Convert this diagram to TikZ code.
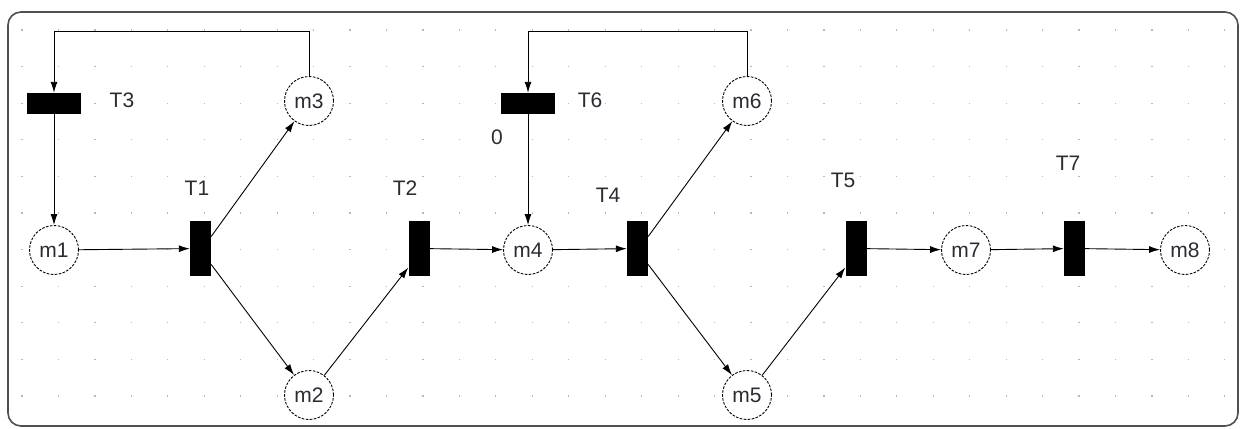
\documentclass[tikz,border=0pt]{standalone}
\usepackage{fontspec}
\setmainfont{Liberation Sans}
\usetikzlibrary{arrows.meta}
\definecolor{txt}{HTML}{2B2B33}
\definecolor{frame}{HTML}{505050}
\definecolor{griddot}{HTML}{B8B8B8}
\newcommand{\netfont}{\fontsize{21}{24}\selectfont}
\begin{document}
\begin{tikzpicture}[x=1pt,y=-1pt,
  place/.style={circle,draw,dash pattern=on 2.6pt off 1.4pt,line width=0.9pt,fill=white,
    minimum size=49pt,inner sep=0pt,text=txt,font=\netfont},
  vtrans/.style={rectangle,fill=black,minimum width=21pt,minimum height=55pt,inner sep=0pt},
  htrans/.style={rectangle,fill=black,minimum width=54pt,minimum height=21pt,inner sep=0pt},
  lbl/.style={text=txt,font=\netfont,inner sep=0pt},
  arc/.style={-{Latex[length=11pt,width=7pt]},line width=0.9pt,black},
]
\useasboundingbox (0,0) rectangle (1241,428);
\fill[white] (0,0) rectangle (1241,428);
% background dot grid
\foreach \i in {0,...,33}{
  \foreach \j in {0,...,10}{
    \fill[griddot] ({22+36.45*\i-0.6},{30+36.6*\j-0.6}) rectangle +(1.2,1.2);
  }
}
% frame
\draw[frame,line width=1.6pt,rounded corners=13pt] (8,12) rectangle (1238,426);

% places
\node[place] (m1) at (54,250) {m1};
\node[place] (m2) at (309,395) {m2};
\node[place] (m3) at (309,101) {m3};
\node[place] (m4) at (528,250) {m4};
\node[place] (m5) at (747,395) {m5};
\node[place] (m6) at (747,101) {m6};
\node[place] (m7) at (966,250) {m7};
\node[place] (m8) at (1185,250) {m8};

% transitions
\node[vtrans] (T1) at (200.5,248.5) {};
\node[vtrans] (T2) at (419,248.5) {};
\node[htrans] (T3) at (54,103.5) {};
\node[vtrans] (T4) at (637.5,248.5) {};
\node[vtrans] (T5) at (856,248.5) {};
\node[htrans] (T6) at (528,103.5) {};
\node[vtrans] (T7) at (1074.5,248.5) {};

% transition labels
\node[lbl] (lT1) at (197,188) {T1};
\node[lbl] (lT2) at (405,188) {T2};
\node[lbl] (lT3) at (122,100) {T3};
\node[lbl] (lT4) at (608,195) {T4};
\node[lbl] (lT5) at (843,180) {T5};
\node[lbl] (lT6) at (590,100) {T6};
\node[lbl] (lT7) at (1068,163) {T7};
\node[lbl] (zero) at (497,137) {0};

% loop corners
\coordinate (c3) at (54,31);
\coordinate (c6) at (528,31);

% arcs
\draw[arc] (m1) -- (T1);
\draw[arc] ([yshift=12pt]T1.east) -- (m3);
\draw[arc] ([yshift=-16pt]T1.east) -- (m2);
\draw[arc] (m2) -- ([yshift=-19pt]T2.west);
\draw[arc] (T2) -- (m4);
\draw[arc] (m4) -- (T4);
\draw[arc] ([yshift=12pt]T4.east) -- (m6);
\draw[arc] ([yshift=-16pt]T4.east) -- (m5);
\draw[arc] (m5) -- ([yshift=-19pt]T5.west);
\draw[arc] (T5) -- (m7);
\draw[arc] (m7) -- (T7);
\draw[arc] (T7) -- (m8);
\draw[arc] (T3) -- (m1);
\draw[arc] (T6) -- (m4);
\draw[arc] (m3.north) |- (c3) -- (T3.north);
\draw[arc] (m6.north) |- (c6) -- (T6.north);
\end{tikzpicture}
\end{document}
